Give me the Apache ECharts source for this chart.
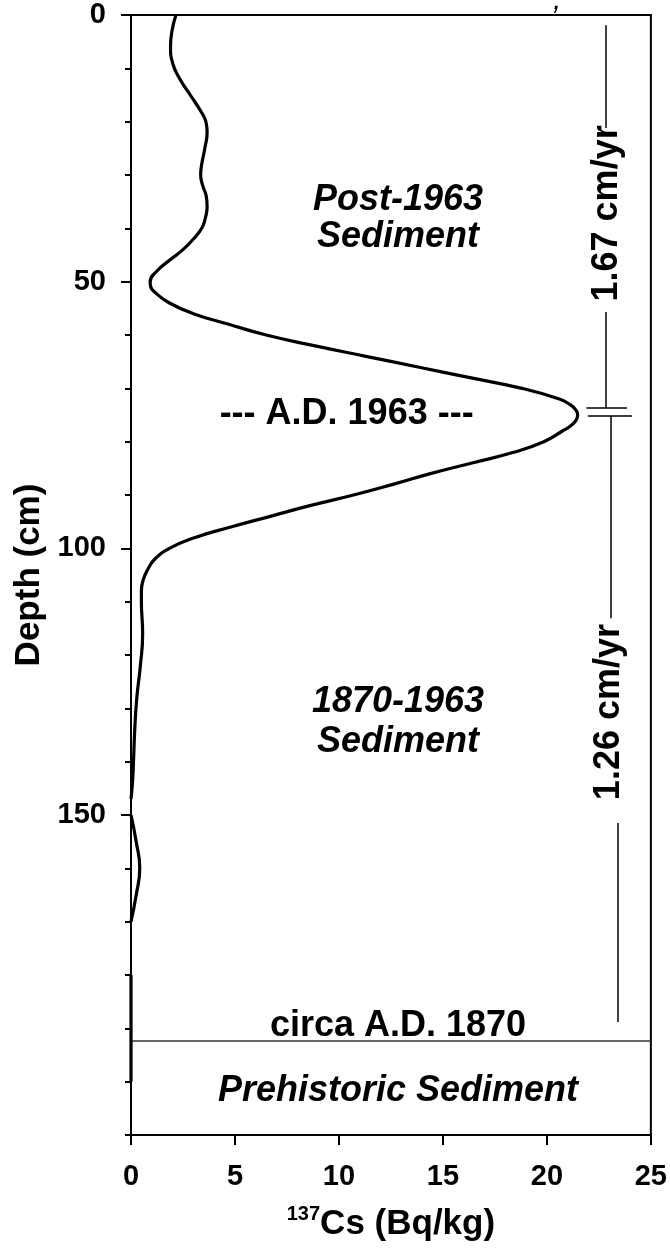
<!DOCTYPE html>
<html><head><meta charset="utf-8">
<script src="https://cdn.jsdelivr.net/npm/echarts@6/dist/echarts.min.js"></script>
<style>html,body{margin:0;padding:0;background:#fff}#c{width:670px;height:1249px}</style>
</head><body><div id="c"></div>
<script>
// ---- data ----
const depthCm = [0,3,6,9,12,15,18,20,22,25,28,30,32,34,36,38,40,42,44,46,48,50,51,52,54,56,58,60,62,64,66,68,70,72,73,74,75,76,77,78,80,82,84,86,88,90,92,94,96,98,100,102,104,106,108,110,116,122,128,134,140,144,147,148.5,150,155,160,165,170,175,180,190,200];
const cs137 = [2.16,1.97,1.9,2.0,2.35,2.85,3.35,3.6,3.66,3.55,3.4,3.35,3.45,3.62,3.66,3.58,3.4,3.0,2.5,1.85,1.25,0.92,0.95,1.15,1.85,3.0,4.7,6.5,8.8,11.3,13.8,16.3,18.8,20.6,21.1,21.38,21.48,21.4,21.15,20.75,19.85,18.4,16.4,14.4,12.6,10.7,8.6,6.7,4.8,3.05,1.85,1.15,0.8,0.58,0.5,0.5,0.56,0.45,0.28,0.18,0.12,0.07,0,null,0,0.25,0.42,0.25,0,null,0,0,0];
const xTicks = [0,5,10,15,20,25];
const yTickLabels = [0,50,100,150,200];
const boundaryDepth = 192.3;

const noteText = ['Post-1963','Sediment','--- A.D. 1963 ---','1870-1963','Sediment','circa A.D. 1870','Prehistoric Sediment'];
const noteX = [12.84,12.84,10.37,12.84,12.84,12.84,12.84];
const noteDepth = [34.7,41.6,74.9,128.8,136.3,189.6,201.8];
const noteItalic = [true,true,false,true,true,false,true];

const rateText = ['1.67 cm/yr','1.26 cm/yr'];
const rateX = [22.88,22.98];
const rateDepth = [37.2,130.7];

const barX = [[22.84,22.84],[22.84,22.84],[23.08,23.08],[23.41,23.41],[21.9,23.85],[21.97,24.09]];
const barDepth = [[1.9,21.2],[55.7,73.7],[75.2,113.1],[151.5,188.8],[73.7,73.7],[75.2,75.2]];

// ---- chart ----
const FONT = '"Liberation Sans", Arial, Helvetica, sans-serif';
const chart = echarts.init(document.getElementById('c'), null, {renderer:'canvas'});
const curve = depthCm.map((d,i)=> cs137[i]===null ? ['-', d] : [cs137[i], d]);
const notes = noteText.map((t,i)=>({
  value:[noteX[i], noteDepth[i]],
  label:{formatter:t, fontStyle: noteItalic[i] ? 'italic':'normal'}
}));
const rates = rateText.map((t,i)=>({value:[rateX[i], rateDepth[i]], label:{formatter:t}}));
const bars = barX.map((xs,i)=>[{coord:[xs[0], barDepth[i][0]]},{coord:[xs[1], barDepth[i][1]]}]);

chart.setOption({
  animation:false,
  backgroundColor:'#fff',
  grid:{left:131, right:19, top:15, bottom:114, show:true, borderColor:'#000', borderWidth:2, containLabel:false},
  xAxis:{
    type:'value', min:0, max:25, interval:5, position:'bottom',
    axisLine:{show:true, onZero:false, lineStyle:{color:'#000', width:2}},
    axisTick:{show:true, inside:false, length:10, lineStyle:{color:'#000', width:2}, customValues: xTicks},
    axisLabel:{show:true, margin:27, fontSize:29, fontWeight:'bold', fontFamily:FONT, color:'#000', customValues: xTicks},
    splitLine:{show:false},
    name:'{sup|137}{main|Cs (Bq/kg)}', nameLocation:'middle', nameGap:69,
    nameTextStyle:{color:'#000', fontFamily:FONT, fontWeight:'bold',
      rich:{
        sup:{fontSize:20, fontWeight:'bold', fontFamily:FONT, color:'#000', verticalAlign:'top', lineHeight:22},
        main:{fontSize:35, fontWeight:'bold', fontFamily:FONT, color:'#000', lineHeight:40}
      }}
  },
  yAxis:[
    {
      type:'value', min:0, max:210, interval:10, inverse:true,
      axisLine:{show:true, onZero:false, lineStyle:{color:'#000', width:2}},
      axisTick:{show:true, inside:false, length:6, lineStyle:{color:'#000', width:2}},
      axisLabel:{show:false}, splitLine:{show:false}
    },
    {
      type:'value', min:0, max:210, interval:50, inverse:true, position:'left',
      axisLine:{show:false},
      axisTick:{show:true, inside:false, length:10, lineStyle:{color:'#000', width:2}, customValues: yTickLabels},
      axisLabel:{show:true, margin:25, fontSize:29, fontWeight:'bold', fontFamily:FONT, color:'#000', customValues: yTickLabels, showMaxLabel:false},
      splitLine:{show:false},
      name:'Depth (cm)', nameLocation:'middle', nameGap:82, nameRotate:90,
      nameTextStyle:{fontSize:35, fontWeight:'bold', fontFamily:FONT, color:'#000'}
    }
  ],
  series:[
    {
      type:'line', name:'137Cs', data:curve, xAxisIndex:0, yAxisIndex:0,
      smooth:0.5, showSymbol:false, symbol:'none', connectNulls:false, clip:false,
      lineStyle:{color:'#000', width:3.2}, z:5,
      markLine:{
        silent:true, symbol:['none','none'], animation:false,
        label:{show:false},
        data:[
          [{coord:[0, boundaryDepth], lineStyle:{color:'#333', width:1.5, type:'solid'}},
           {coord:[25, boundaryDepth]}]
        ].concat(bars.map(b=>[Object.assign({lineStyle:{color:'#000', width:1.5, type:'solid'}}, b[0]), b[1]]))
      }
    },
    {
      type:'scatter', name:'notes', data:notes, symbolSize:0, silent:true, z:6,
      itemStyle:{opacity:1, color:'#000'},
      label:{show:true, position:'inside', fontSize:36, fontWeight:'bold', fontFamily:FONT, color:'#000'}
    },
    {
      type:'scatter', name:'rates', data:rates, symbolSize:0, silent:true, z:6,
      itemStyle:{opacity:1, color:'#000'},
      label:{show:true, position:'inside', rotate:90, fontSize:36, fontWeight:'bold', fontFamily:FONT, color:'#000'}
    }
  ],
  graphic:[
    {type:'text', left:553, top:-14, silent:true, style:{text:',', font:'italic 30px '+FONT, fill:'#000'}}
  ]
});
</script>
</body></html>
